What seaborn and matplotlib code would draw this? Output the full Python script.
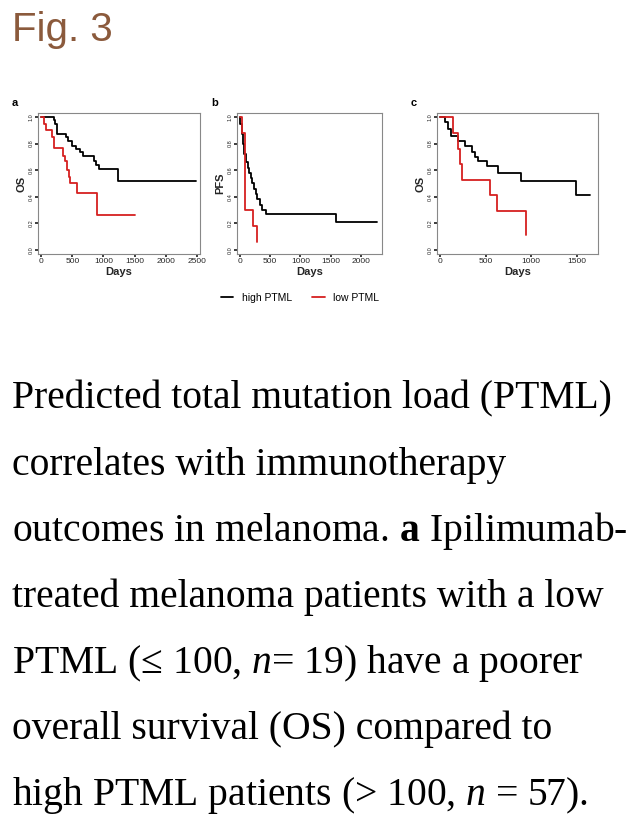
import matplotlib.pyplot as plt
import pandas as pd
import seaborn as sns

sns.set_theme(style="white")
plt.rcParams["font.family"] = ["Liberation Sans", "DejaVu Sans"]
plt.rcParams["text.color"] = "black"

# step survival curves: (time, survival) change points
A_HIGH_T = [0, 200, 230, 250, 400, 430, 500, 560, 620, 680, 850, 880, 930, 1230, 2480]
A_HIGH_S = [1.0, 0.98, 0.95, 0.87, 0.85, 0.82, 0.78, 0.76, 0.74, 0.71, 0.67, 0.64, 0.61, 0.52, 0.52]
A_LOW_T = [0, 50, 80, 170, 200, 350, 380, 420, 440, 460, 580, 890, 1500]
A_LOW_S = [1.0, 0.95, 0.90, 0.85, 0.77, 0.71, 0.67, 0.60, 0.55, 0.50, 0.43, 0.26, 0.26]
B_HIGH_T = [0, 10, 30, 50, 70, 100, 130, 160, 180, 200, 230, 260, 290, 330, 360, 440, 1580, 2270]
B_HIGH_S = [1.0, 0.95, 0.87, 0.80, 0.72, 0.66, 0.62, 0.58, 0.54, 0.50, 0.46, 0.42, 0.38, 0.34, 0.30, 0.27, 0.21, 0.21]
B_LOW_T = [0, 40, 80, 90, 220, 280]
B_LOW_S = [1.0, 0.88, 0.70, 0.30, 0.18, 0.06]
C_HIGH_T = [0, 50, 90, 120, 200, 270, 350, 380, 420, 510, 640, 890, 1490, 1650]
C_HIGH_S = [1.0, 0.96, 0.91, 0.86, 0.82, 0.78, 0.74, 0.70, 0.67, 0.63, 0.58, 0.52, 0.41, 0.41]
C_LOW_T = [0, 140, 200, 220, 240, 550, 620, 940, 940]
C_LOW_S = [1.0, 0.88, 0.76, 0.65, 0.53, 0.41, 0.29, 0.29, 0.11]

PANELS = [
    ("a", "OS", A_HIGH_T, A_HIGH_S, A_LOW_T, A_LOW_S, 2500, [0, 500, 1000, 1500, 2000, 2500]),
    ("b", "PFS", B_HIGH_T, B_HIGH_S, B_LOW_T, B_LOW_S, 2300, [0, 500, 1000, 1500, 2000]),
    ("c", "OS", C_HIGH_T, C_HIGH_S, C_LOW_T, C_LOW_S, 1700, [0, 500, 1000, 1500]),
]
AX_X = [38, 237, 437]
AX_W = [162, 145, 161]

W, H = 644, 823
fig = plt.figure(figsize=(W / 100, H / 100), dpi=100)
fig.text(12 / W, 1 - 30 / H, "Fig. 3", color="#8B5A3C", fontsize=29,
         family=["Liberation Sans Narrow", "Liberation Sans"], va="center")

for (lab, ylab, ht, hs, lt, ls, xmax, xt), x0, w in zip(PANELS, AX_X, AX_W):
    ax = fig.add_axes([x0 / W, 1 - 254 / H, w / W, 141 / H])
    df = pd.concat([pd.DataFrame({"t": ht, "s": hs, "g": "high PTML"}),
                    pd.DataFrame({"t": lt, "s": ls, "g": "low PTML"})])
    sns.lineplot(data=df, x="t", y="s", hue="g", palette=["black", "#d62020"],
                 drawstyle="steps-post", estimator=None, sort=False,
                 linewidth=1.3, ax=ax, legend=False)
    ax.set_xlim(-xmax * 0.02, xmax * 1.02)
    ax.set_ylim(-0.03, 1.03)
    ax.set_xticks(xt)
    ax.set_yticks([0, 0.2, 0.4, 0.6, 0.8, 1.0])
    ax.set_yticklabels(["0.0", "0.2", "0.4", "0.6", "0.8", "1.0"], rotation=90, va="center")
    ax.tick_params(axis="x", labelsize=6, length=2, pad=1)
    ax.tick_params(axis="y", labelsize=4, length=2, pad=1)
    ax.tick_params(left=True, bottom=True)
    ax.set_xlabel("Days", fontsize=8, fontweight="bold", labelpad=1)
    ax.set_ylabel(ylab, fontsize=8, fontweight="bold", labelpad=2)
    for s in ax.spines.values():
        s.set_color("#888888")
        s.set_linewidth(0.8)
    fig.text((x0 - 26) / W, 1 - 103 / H, lab, fontsize=8, fontweight="bold", va="center")

fig.legend(handles=[plt.Line2D([], [], color="black", lw=1.3),
                    plt.Line2D([], [], color="#d62020", lw=1.3)],
           labels=["high PTML", "low PTML"], loc="center",
           bbox_to_anchor=(300 / W, 1 - 298 / H), ncol=2, frameon=False,
           fontsize=7.5, handlelength=1.2, columnspacing=2)

CAPTION = [
    "Predicted total mutation load (PTML)",
    "correlates with immunotherapy",
    "outcomes in melanoma. $\\mathbf{a}$ Ipilimumab-",
    "treated melanoma patients with a low",
    "PTML (\u2264 100, $\\it{n}$= 19) have a poorer",
    "overall survival (OS) compared to",
    "high PTML patients (> 100, $\\it{n}$ = 57).",
]
plt.rcParams["mathtext.fontset"] = "custom"
plt.rcParams["mathtext.rm"] = "Liberation Serif"
plt.rcParams["mathtext.it"] = "Liberation Serif:italic"
plt.rcParams["mathtext.bf"] = "Liberation Serif:bold"
for i, line in enumerate(CAPTION):
    fig.text(12 / W, 1 - (399 + 66 * i) / H, line, fontsize=28.5,
             family=["Liberation Serif", "DejaVu Serif"], va="center")

fig.savefig("out.png", dpi=100)
